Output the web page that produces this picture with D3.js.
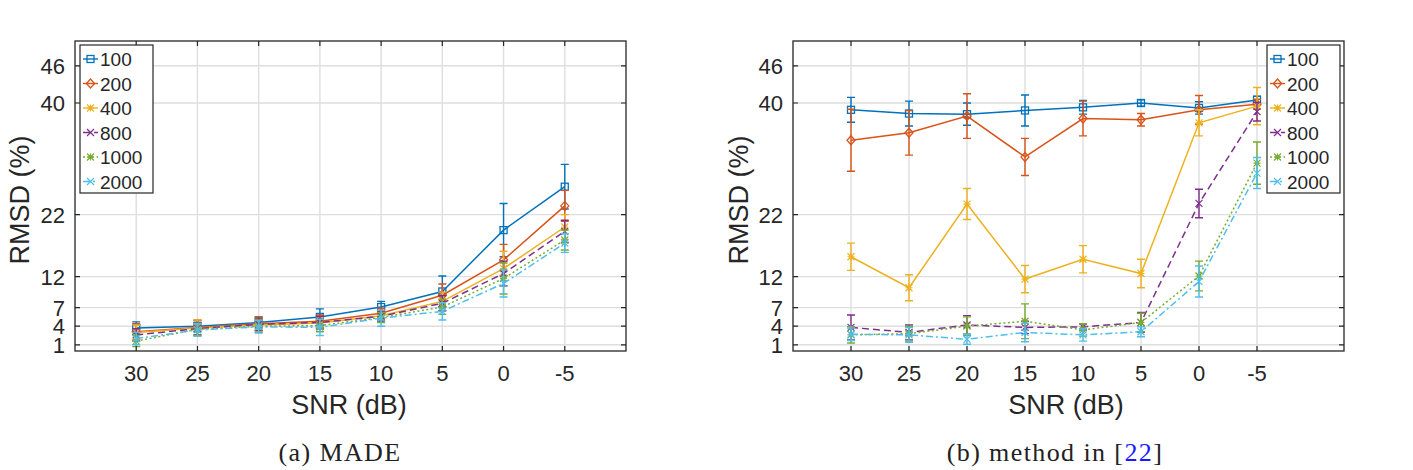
<!DOCTYPE html>
<html lang="en">
<head>
<meta charset="UTF-8">
<script src="https://d3js.org/d3.v7.min.js"></script>
<style>
body { margin: 0; background: #fff; }
svg { display: block; }
.tick-label { font-family: "Liberation Sans", Arial, sans-serif; font-size: 22px; fill: #262626; }
.ax-title { font-family: "Liberation Sans", Arial, sans-serif; font-size: 27px; fill: #262626; }
.legend-text { font-family: "Liberation Sans", Arial, sans-serif; font-size: 19px; fill: #262626; }
.caption { font-family: "Liberation Serif", "Times New Roman", serif; font-size: 26px; letter-spacing: 1.4px; fill: #222; }
</style>
</head>
<body>
<svg id="chart" width="1413" height="470"></svg>
<script>
// x categories and tick labels
const snr = [30, 25, 20, 15, 10, 5, 0, -5];
const yTicks = [1, 4, 7, 12, 22, 40, 46];
const seriesNames = ["100", "200", "400", "800", "1000", "2000"];

// (a) MADE - mean RMSD (%)
const made100 = [3.7, 4.0, 4.6, 5.5, 7.1, 9.6, 19.5, 26.5];
const made200 = [3.1, 3.8, 4.4, 4.8, 6.1, 9.0, 14.7, 23.4];
const made400 = [3.0, 3.7, 4.2, 4.5, 5.7, 8.0, 13.3, 20.0];
const made800 = [2.6, 3.6, 4.3, 4.6, 5.6, 7.7, 12.5, 19.3];
const made1000 = [1.6, 3.5, 4.0, 4.1, 5.4, 7.1, 11.7, 17.9];
const made2000 = [2.0, 3.4, 3.9, 3.8, 5.3, 6.4, 10.9, 17.4];
// (a) MADE - error bar half lengths
const madeErr100 = [1.0, 0.9, 0.9, 1.3, 0.9, 2.5, 4.3, 3.6];
const madeErr200 = [1.3, 1.2, 1.1, 1.0, 0.8, 1.8, 2.5, 2.5];
const madeErr400 = [1.2, 1.3, 1.0, 1.0, 0.8, 1.5, 2.8, 2.0];
const madeErr800 = [1.0, 1.0, 1.0, 1.0, 0.8, 1.2, 2.0, 1.8];
const madeErr1000 = [0.9, 1.0, 1.0, 1.0, 0.8, 1.2, 2.5, 1.6];
const madeErr2000 = [1.0, 1.0, 1.0, 1.3, 1.3, 1.4, 2.2, 1.5];

// (b) method in [22] - mean RMSD (%)
const ref100 = [38.9, 38.3, 38.2, 38.8, 39.3, 40.0, 39.2, 40.5];
const ref200 = [34.0, 35.2, 37.9, 31.3, 37.5, 37.3, 38.9, 39.8];
const ref400 = [15.2, 10.2, 23.7, 11.6, 14.8, 12.5, 36.8, 39.5];
const ref800 = [3.8, 3.0, 4.2, 3.8, 3.9, 4.6, 23.8, 38.6];
const ref1000 = [2.6, 2.8, 4.0, 4.8, 3.4, 4.6, 12.1, 30.3];
const ref2000 = [2.7, 2.6, 1.9, 3.0, 2.6, 3.1, 11.2, 28.7];
// (b) error bar half lengths
const refErr100 = [2.0, 2.0, 1.8, 2.5, 1.1, 0.5, 1.0, 0.6];
const refErr200 = [5.0, 3.6, 3.6, 3.0, 2.8, 1.0, 2.3, 0.8];
const refErr400 = [2.2, 2.1, 2.5, 2.2, 2.2, 2.3, 2.1, 3.0];
const refErr800 = [2.0, 1.2, 1.5, 1.0, 0.5, 1.6, 2.3, 1.5];
const refErr1000 = [1.3, 1.2, 1.5, 2.8, 1.0, 1.5, 2.4, 3.4];
const refErr2000 = [1.0, 1.2, 0.8, 1.5, 1.0, 0.8, 2.5, 2.5];

// matlab-ish styles per series
const colors = ["#0072BD", "#D95319", "#EDB120", "#7E2F8E", "#77AC30", "#4DBEEE"];
const dashes = [null, null, null, "7,4", "2,2.5", "7,3,2,3"];
const markers = ["square", "diamond", "star", "x", "star", "x"];

const svg = d3.select("#chart");
svg.append("rect").attr("width", 1413).attr("height", 470).attr("fill", "#fff");

function drawMarker(g, type, cx, cy, color) {
  var s = 3.5;
  if (type == "square") {
    g.append("rect").attr("x", cx - s).attr("y", cy - s).attr("width", 2 * s).attr("height", 2 * s)
      .attr("fill", "none").attr("stroke", color).attr("stroke-width", 1.3);
  } else if (type == "diamond") {
    g.append("path").attr("d", "M" + cx + "," + (cy - s - 1) + "L" + (cx + s + 0.5) + "," + cy + "L" + cx + "," + (cy + s + 1) + "L" + (cx - s - 0.5) + "," + cy + "Z")
      .attr("fill", "none").attr("stroke", color).attr("stroke-width", 1.3);
  } else {
    var p = "M" + (cx - s) + "," + (cy - s) + "L" + (cx + s) + "," + (cy + s) +
            "M" + (cx - s) + "," + (cy + s) + "L" + (cx + s) + "," + (cy - s);
    if (type == "star") p += "M" + (cx - s) + "," + cy + "L" + (cx + s) + "," + cy + "M" + cx + "," + (cy - s) + "L" + cx + "," + (cy + s);
    g.append("path").attr("d", p).attr("fill", "none").attr("stroke", color).attr("stroke-width", 1.2);
  }
}

function drawPanel(opt) {
  var x = d3.scaleLinear().domain(opt.xDomain).range([opt.left, opt.right]);
  var y = d3.scaleLinear().domain([0, 50]).range([351, 41]);
  var top = 41, bottom = 351;
  var g = svg.append("g");

  // grid
  g.selectAll(".gx").data(snr).enter().append("line")
    .attr("x1", d => x(d)).attr("x2", d => x(d)).attr("y1", top).attr("y2", bottom)
    .attr("stroke", "#dedede").attr("stroke-width", 1.4);
  g.selectAll(".gy").data(yTicks).enter().append("line")
    .attr("x1", opt.left).attr("x2", opt.right).attr("y1", d => y(d)).attr("y2", d => y(d))
    .attr("stroke", "#dedede").attr("stroke-width", 1.4);

  // series
  var means = opt.means, errs = opt.errs;
  means.forEach(function(vals, i) {
    var pts = snr.map((s, j) => ({ s: s, v: vals[j], e: errs[i][j] }));
    var line = d3.line().x(d => x(d.s)).y(d => y(d.v));
    g.append("path").datum(pts).attr("d", line).attr("fill", "none")
      .attr("stroke", colors[i]).attr("stroke-width", 1.5)
      .attr("stroke-dasharray", dashes[i]);
    pts.forEach(function(d) {
      var cx = x(d.s), y0 = y(d.v - d.e), y1 = y(d.v + d.e);
      g.append("path")
        .attr("d", "M" + cx + "," + y0 + "L" + cx + "," + y1 +
                   "M" + (cx - 4) + "," + y0 + "L" + (cx + 4) + "," + y0 +
                   "M" + (cx - 4) + "," + y1 + "L" + (cx + 4) + "," + y1)
        .attr("fill", "none").attr("stroke", colors[i]).attr("stroke-width", 1.4);
      drawMarker(g, markers[i], cx, y(d.v), colors[i]);
    });
  });

  // box + inward ticks
  g.append("rect").attr("x", opt.left).attr("y", top).attr("width", opt.right - opt.left).attr("height", bottom - top)
    .attr("fill", "none").attr("stroke", "#262626").attr("stroke-width", 1.3);
  snr.forEach(function(s) {
    g.append("path").attr("d", "M" + x(s) + "," + bottom + "v-5M" + x(s) + "," + top + "v5")
      .attr("stroke", "#262626").attr("stroke-width", 1.2);
  });
  yTicks.forEach(function(t) {
    g.append("path").attr("d", "M" + opt.left + "," + y(t) + "h5M" + opt.right + "," + y(t) + "h-5")
      .attr("stroke", "#262626").attr("stroke-width", 1.2);
  });

  // tick labels
  g.selectAll(".xl").data(snr).enter().append("text").attr("class", "tick-label")
    .attr("x", d => x(d)).attr("y", 381).attr("text-anchor", "middle").text(d => d);
  g.selectAll(".yl").data(yTicks).enter().append("text").attr("class", "tick-label")
    .attr("x", opt.left - 10).attr("y", d => y(d) + 8).attr("text-anchor", "end").text(d => d);

  // axis titles
  g.append("text").attr("class", "ax-title").attr("x", opt.xTitleX).attr("y", 414)
    .attr("text-anchor", "middle").text("SNR (dB)");
  g.append("text").attr("class", "ax-title")
    .attr("transform", "translate(" + opt.yTitleX + ",200) rotate(-90)")
    .attr("text-anchor", "middle").text("RMSD (%)");

  // legend
  var lg = g.append("g").attr("transform", "translate(" + opt.legendX + ",45)");
  lg.append("rect").attr("width", 73).attr("height", 148).attr("fill", "#fff")
    .attr("stroke", "#262626").attr("stroke-width", 1.2);
  seriesNames.forEach(function(n, i) {
    var ly = 14 + i * 24.5;
    lg.append("line").attr("x1", 3).attr("x2", 18).attr("y1", ly).attr("y2", ly)
      .attr("stroke", colors[i]).attr("stroke-width", 1.4).attr("stroke-dasharray", dashes[i]);
    drawMarker(lg, markers[i], 10.5, ly, colors[i]);
    lg.append("text").attr("class", "legend-text").attr("x", 20).attr("y", ly + 7).text(n);
  });

  // caption
  var cap = svg.append("text").attr("class", "caption").attr("x", opt.capX).attr("y", 461)
    .attr("text-anchor", "middle");
  cap.append("tspan").text(opt.caption);
  if (opt.capRef) {
    cap.append("tspan").text("[");
    cap.append("tspan").attr("fill", "#1a1aff").text(opt.capRef);
    cap.append("tspan").text("]");
  }
}

drawPanel({
  left: 75, right: 626, xDomain: [35, -10],
  means: [made100, made200, made400, made800, made1000, made2000],
  errs: [madeErr100, madeErr200, madeErr400, madeErr800, madeErr1000, madeErr2000],
  xTitleX: 349, yTitleX: 29, legendX: 80, capX: 340, caption: "(a) MADE"
});
drawPanel({
  left: 793, right: 1344, xDomain: [35, -12.5],
  means: [ref100, ref200, ref400, ref800, ref1000, ref2000],
  errs: [refErr100, refErr200, refErr400, refErr800, refErr1000, refErr2000],
  xTitleX: 1066, yTitleX: 748, legendX: 1267, capX: 1055, caption: "(b) method in ", capRef: "22"
});
</script>
</body>
</html>
